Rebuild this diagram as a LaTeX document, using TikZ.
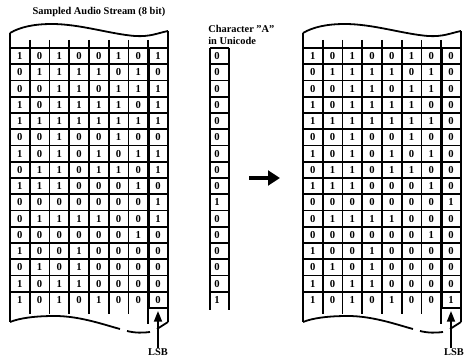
\documentclass[tikz,border=0pt]{standalone}
\usepackage{fontspec}
\setmainfont{Liberation Serif}
\usetikzlibrary{arrows.meta}

\tikzset{
  grid line/.style={line width=1.35pt},
  lsb line/.style={line width=2pt},
  bit/.style={font=\fontsize{8}{8}\selectfont\bfseries, inner sep=0pt},
  caption/.style={font=\fontsize{7.8}{9}\selectfont\bfseries, inner sep=0pt},
  lsb arrow/.style={line width=1.3pt, -{Triangle[length=8pt,width=6pt]}},
}

\begin{document}
\begin{tikzpicture}[x=0.75pt,y=-0.75pt]
\useasboundingbox (0,0) rectangle (465,360);
\def\colw{19.75}
\def\rowh{16.25}
\def\tabtop{48}
\def\charbits{{0,0,0,0,0,0,0,0,0,1,0,0,0,0,0,1}}

% the two audio streams, before and after
\foreach \ox/\t in {10/L,303/R}{
  \begin{scope}[shift={(\ox,0)}]
    \draw[grid line] (0,33) .. controls (10,27) and (24,24) .. (42,24)
      .. controls (70,24) and (100,34) .. (125,36)
      .. controls (140,37) and (148,33) .. (158,31);
    \draw[grid line] (0,33) -- (0,322);
    \draw[grid line] (158,31) -- (158,322);
    \foreach \k in {1,...,6}
      \draw[grid line] (\k*\colw,40) -- (\k*\colw,314);
    \draw[grid line] (7*\colw,40) -- (7*\colw,324);
    \foreach \k in {0,...,15}
      \draw[grid line] (0,\tabtop+\k*\rowh) -- (158,\tabtop+\k*\rowh);
    \draw[lsb line] (7*\colw,\tabtop) rectangle (158,\tabtop+16*\rowh);
    \draw[grid line] (0,322) .. controls (10,318) and (25,316) .. (45,316)
      .. controls (70,316) and (95,325) .. (110,329);
    \draw[grid line] (117,331) .. controls (125,333) and (133,333) .. (140,332);
    \draw[grid line] (147,329) -- (158,322);
    \coordinate (\t-tip) at (148,311);
  \end{scope}
}

\foreach \row [count=\r] in {
  {1,0,1,0,0,1,0,1},{0,1,1,1,1,0,1,0},{0,0,1,1,0,1,1,1},{1,0,1,1,1,1,0,1},
  {1,1,1,1,1,1,1,1},{0,0,1,0,0,1,0,0},{1,0,1,0,1,0,1,1},{0,1,1,0,1,1,0,1},
  {1,1,1,0,0,0,1,0},{0,0,0,0,0,0,0,1},{0,1,1,1,1,0,0,1},{0,0,0,0,0,0,1,0},
  {1,0,0,1,0,0,0,0},{0,1,0,1,0,0,0,0},{1,0,1,1,0,0,0,0},{1,0,1,0,1,0,0,0}}{
  \foreach \b [count=\c] in \row{
    \node[bit] (L-\r-\c) at ({10+(\c-0.5)*\colw},{\tabtop+(\r-0.5)*\rowh}) {\b};
    \ifnum\c<8
      \node[bit] (R-\r-\c) at ({303+(\c-0.5)*\colw},{\tabtop+(\r-0.5)*\rowh}) {\b};
    \fi
  }
  \pgfmathtruncatemacro\u{\charbits[\r-1]}
  \node[bit] (R-\r-8) at ({303+7.5*\colw},{\tabtop+(\r-0.5)*\rowh}) {\u};
  \node[bit] (U-\r) at (217,{\tabtop+(\r-0.5)*\rowh}) {\u};
}

% the character column
\draw[lsb line] (210,\tabtop) -- (210,310);
\draw[lsb line] (229,\tabtop) -- (229,310);
\foreach \k in {0,...,15}
  \draw[grid line] (210,\tabtop+\k*\rowh) -- (229,\tabtop+\k*\rowh);

\node[caption] (title) at (99,12) {Sampled Audio Stream (8 bit)};
\node[caption, anchor=north west, align=left] (charcap) at (208,25) {Character "A"\\in Unicode};

\coordinate (embed-s) at (249,178);
\coordinate (embed-e) at (280,178);
\draw[line width=3pt, -{Triangle[length=9pt,width=11pt]}] (embed-s) -- (embed-e);

\node[caption] (L-lsb) at (158,352) {LSB};
\node[caption] (R-lsb) at (454,352) {LSB};
\coordinate (L-tail) at (L-tip |- L-lsb.north);
\coordinate (R-tail) at (R-tip |- R-lsb.north);
\draw[lsb arrow] (L-tail) -- (L-tip);
\draw[lsb arrow] (R-tail) -- (R-tip);
\end{tikzpicture}
\end{document}
